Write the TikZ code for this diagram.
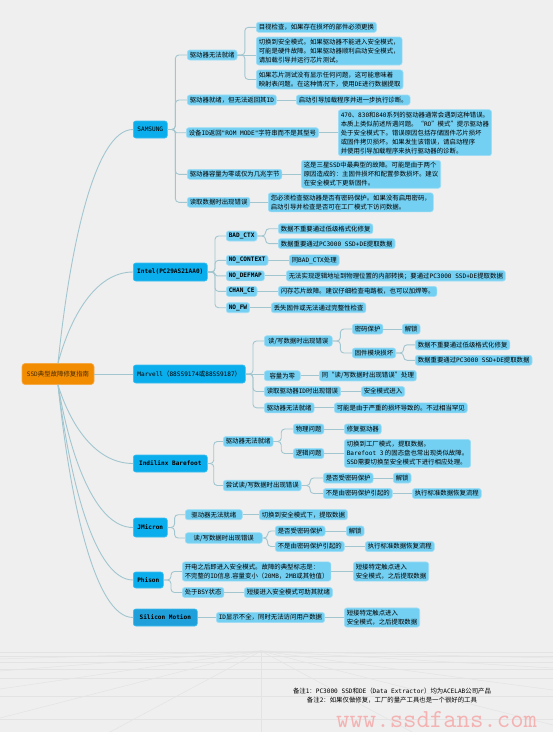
\documentclass[tikz,border=0pt]{standalone}
\usepackage{fontspec}
\setmainfont{Noto Sans CJK SC}
\newfontfamily\codefont{DejaVu Sans Mono}
\usetikzlibrary{calc}
\definecolor{bg}{HTML}{EFEFEF}
\definecolor{prifill}{HTML}{0BAEEC}
\definecolor{pridraw}{HTML}{3DBEF0}
\definecolor{smfill}{HTML}{1FA0DA}
\definecolor{secfill}{HTML}{74D0F2}
\definecolor{secdraw}{HTML}{A0DEF6}
\definecolor{rootfill}{HTML}{F28C00}
\definecolor{rootdraw}{HTML}{F6AA45}
\definecolor{roottext}{HTML}{4A2C00}
\definecolor{conncol}{HTML}{A2C6CF}
\definecolor{wm}{HTML}{F4B2B2}
\definecolor{gridc}{HTML}{E3E3E3}
\newcommand\fs{\fontsize{6.4}{9}\selectfont}
\newcommand\cd[1]{{\codefont\fontsize{6.1}{9}\selectfont #1}}
\newcommand\cdb[1]{{\codefont\bfseries\fontsize{6.1}{9}\selectfont #1}}
\newcommand\brx[3][3.5pt]{\draw[conn, rounded corners=#1] (#2.east) -- ($(#2.east)!.4!(#2.east -| #3.west)$) |- (#3.west);}
\newcommand\sln[2]{\draw[conn] (#1.east) -- (#1.east -| #2.west);}
\tikzset{
  base/.style={draw, rounded corners=2.5pt, line width=0.6pt, inner xsep=2.5pt, inner ysep=2pt, align=left, font=\fs, text=black},
  sec/.style={base, fill=secfill, draw=secdraw, anchor=west, minimum height=10pt},
  pri/.style={base, fill=prifill, draw=pridraw, anchor=west, align=center, minimum height=17pt, inner xsep=1pt},
  rootn/.style={base, fill=rootfill, draw=rootdraw, rounded corners=3pt, align=center, minimum width=72pt, minimum height=21pt, text=roottext},
  conn/.style={draw=conncol, line width=0.9pt},
  gridl/.style={draw=gridc, line width=0.5pt},
}
\begin{document}
\begin{tikzpicture}[x=1pt,y=-1pt]
\useasboundingbox (0,0) rectangle (553,732);
\clip (0,0) rectangle (553,732);
\fill[bg] (0,0) rectangle (553,732);
% faint perspective floor in the background
\coordinate (vp) at (261,651);
\foreach \yy in {652,656.7,662.7,669.3,678.7,696,719} {\draw[gridl] (0,\yy) -- (553,\yy);}
\draw[gridl] (261,652) -- (261,732);
\foreach \pt in {(0,659),(0,671),(0,689),(0,718),(110,732),(553,658),(553,668),(553,690),(553,725),(412,732)} {\draw[gridl] (vp) -- \pt;}
% watermark
\node[anchor=base west, inner sep=0, text=wm, font=\ttfamily\fontsize{26}{26}\selectfont] (wm) at (336,727) {www.ssdfans.com};

% root
\node[rootn] (root) at (58,374) {\cd{SSD}典型故障修复指南};

% SAMSUNG
\node[pri, minimum width=34pt] (sam) at (133,129.5) {\cd{SAMSUNG}};
\node[sec] (s1) at (187,55) {驱动器无法就绪};
\node[sec] (s11) at (256,27.3) {目视检查，如果存在损坏的部件必须更换};
\node[sec] (s12) at (256,51) {切换到安全模式。如果驱动器不能进入安全模式，\\可能是硬件故障。如果驱动器顺利启动安全模式，\\请加载引导并运行芯片测试。};
\node[sec] (s13) at (256,79.5) {如果芯片测试没有显示任何问题，这可能意味着\\映射表问题。在这种情况下，使用\cd{DE}进行数据提取};
\node[sec] (s2) at (187,100) {驱动器就绪，但无法返回其\cd{ID}};
\node[sec] (s21) at (296,100) {启动引导加载程序并进一步执行诊断。};
\node[sec] (s3) at (186,132.7) {设备\cd{ID}返回\cd{"ROM MODE"}字符串而不是其型号};
\node[sec] (s31) at (338,132.7) {\cd{470}、\cd{830}和\cd{840}系列的驱动器通常会遇到这种错误。\\本质上类似前述所遇问题。“\cd{RO}”模式”提示驱动器\\处于安全模式下。错误原因包括存储固件芯片损坏\\或固件拷贝损坏。如果发生该错误，请启动程序\\并使用引导加载程序来执行驱动器的诊断。};
\node[sec] (s4) at (187,174.3) {驱动器容量为零或仅为几兆字节};
\node[sec] (s41) at (301,174.3) {这是三星\cd{SSD}中最典型的故障。可能是由于两个\\原因造成的：主固件损坏和配置参数损坏。建议\\在安全模式下更新固件。};
\node[sec] (s5) at (187,202.3) {读取数据时出现错误};
\node[sec] (s51) at (268,202.3) {您必须检查驱动器是否有密码保护。如果没有启用密码，\\启动引导并检查是否可在工厂模式下访问数据。};

% Intel
\node[pri, minimum width=74pt, minimum height=18pt] (int) at (133,272) {\cdb{Intel(PC29AS21AA0)}};
\node[sec] (i1) at (226,236) {\cdb{BAD\_CTX}};
\node[sec] (i11) at (278,228.7) {数据不重要通过低级格式化修复};
\node[sec] (i12) at (278,243.6) {数据重要通过\cd{PC3000 SSD+DE}提取数据};
\node[sec] (i2) at (226,260.3) {\cdb{NO\_CONTEXT}};
\node[sec] (i21) at (289,260.3) {同\cd{BAD\_CTX}处理};
\node[sec] (i3) at (226,275.8) {\cdb{NO\_DEFMAP}};
\node[sec] (i31) at (286,275.8) {无法实现逻辑地址到物理位置的内部转换；要通过\cd{PC3000 SSD+DE}提取数据};
\node[sec] (i4) at (226,291.4) {\cdb{CHAN\_CE}};
\node[sec] (i41) at (278,291.4) {闪存芯片故障。建议仔细检查电路板，也可以加焊等。};
\node[sec] (i5) at (226,307.7) {\cdb{NO\_FW}};
\node[sec] (i51) at (271,307.7) {丢失固件或无法通过完整性检查};

% Marvell
\node[pri, minimum width=112pt, minimum height=18pt] (mar) at (133,374) {\cd{Marvell}（\cd{88SS9174}或\cd{88SS9187}）};
\node[sec, minimum width=68pt] (m1) at (264,341) {读/写数据时出现错误};
\node[sec] (m11) at (352,329) {密码保护};
\node[sec] (m111) at (402,329) {解锁};
\node[sec] (m12) at (352,353) {固件模块损坏};
\node[sec] (m121) at (415,344.8) {数据不重要通过低级格式化修复};
\node[sec] (m122) at (415,360.3) {数据重要通过\cd{PC3000 SSD+DE}提取数据};
\node[sec, minimum width=36pt] (m2) at (264,375.7) {容量为零};
\node[sec] (m21) at (319,375.7) {同“读/写数据时出现错误”处理};
\node[sec] (m3) at (264,391.5) {读取驱动器\cd{ID}时出现错误};
\node[sec] (m31) at (361,391.5) {安全模式进入};
\node[sec] (m4) at (264,407.8) {驱动器无法就绪};
\node[sec] (m41) at (334,407.8) {可能是由于严重的损坏导致的。不过相当罕见};

% Indilinx
\node[pri, minimum width=74pt] (ind) at (133,463.5) {\cdb{Indilinx Barefoot}};
\node[sec] (d1) at (223,441.5) {驱动器无法就绪};
\node[sec] (d11) at (293,429) {物理问题};
\node[sec] (d111) at (344,429) {修复驱动器};
\node[sec] (d12) at (293,453.5) {逻辑问题};
\node[sec] (d121) at (344,453.5) {切换到工厂模式，提取数据。\\\cd{Barefoot 3} 的固态盘也常出现类似故障。\\\cd{SSD}需要切换至安全模式下进行相应处理。};
\node[sec] (d2) at (223,485.5) {尝试读/写数据时出现错误};
\node[sec] (d21) at (323,478) {是否受密码保护};
\node[sec] (d211) at (393,478) {解锁};
\node[sec] (d22) at (323,493.5) {不是由密码保护引起的};
\node[sec] (d221) at (412,493.5) {执行标准数据恢复流程};

% JMicron
\node[pri, minimum width=34pt, minimum height=19pt] (jm) at (133,527.5) {\cdb{JMicron}};
\node[sec, minimum width=57pt] (j1) at (185,514.7) {驱动器无法就绪};
\node[sec] (j11) at (259,514.7) {切换到安全模式下，提取数据};
\node[sec, minimum width=77pt] (j2) at (185,538) {读/写数据时出现错误};
\node[sec] (j21) at (275,531) {是否受密码保护};
\node[sec] (j211) at (346,531) {解锁};
\node[sec] (j22) at (275,546.5) {不是由密码保护引起的};
\node[sec] (j221) at (365,546.5) {执行标准数据恢复流程};

% Phison
\node[pri, minimum width=30pt, minimum height=16pt] (ph) at (133,580) {\cdb{Phison}};
\node[sec] (p1) at (182,571.5) {开电之后即进入安全模式。故障的典型标志是：\\不完整的\cd{ID}信息.容量变小（\cd{20MB}，\cd{2MB}或其他值）};
\node[sec] (p11) at (353,571.5) {短接特定触点进入\\安全模式，之后提取数据};
\node[sec] (p2) at (182,592.5) {处于\cd{BSY}状态};
\node[sec] (p21) at (244,592.5) {短接进入安全模式可助其就绪};

% Silicon Motion
\node[pri, fill=smfill, minimum width=64pt] (sm) at (133,617.5) {\cdb{Silicon Motion}};
\node[sec] (sm1) at (216,617.5) {\cd{ID}显示不全，同时无法访问用户数据};
\node[sec] (sm11) at (344,617.5) {短接特定触点进入\\安全模式，之后提取数据};

% notes
\node[font=\fs, align=center, inner sep=0] (note) at (392,695.5) {备注\cd{1}：\cd{PC3000 SSD}和\cd{DE}（\cd{Data Extractor}）均为\cd{ACELAB}公司产品\\备注\cd{2}：如果仅做修复，工厂的量产工具也是一个很好的工具};

% root connectors
\draw[conn] (root.north) .. controls (70,246) and (95,129.5) .. (sam.west);
\draw[conn] (root.north) .. controls (70,318) and (95,272) .. (int.west);
\draw[conn] (root.east) -- (mar.west);
\draw[conn] (root.south) .. controls (70,424) and (95,463.5) .. (ind.west);
\draw[conn] (root.south) .. controls (70,456) and (95,527.5) .. (jm.west);
\draw[conn] (root.south) .. controls (70,482) and (95,580) .. (ph.west);
\draw[conn] (root.south) .. controls (70,501) and (95,617.5) .. (sm.west);

% Samsung
\brx{sam}{s1} \brx{sam}{s2} \brx[1.5pt]{sam}{s3} \brx{sam}{s4} \brx{sam}{s5}
\brx{s1}{s11} \sln{s1}{s12} \brx{s1}{s13}
\sln{s2}{s21} \sln{s3}{s31} \sln{s4}{s41} \sln{s5}{s51}
% Intel
\brx{int}{i1} \brx{int}{i2} \brx[1.8pt]{int}{i3} \brx{int}{i4} \brx{int}{i5}
\brx{i1}{i11} \brx{i1}{i12}
\sln{i2}{i21} \sln{i3}{i31} \sln{i4}{i41} \sln{i5}{i51}
% Marvell
\brx{mar}{m1} \sln{mar}{m2} \brx{mar}{m3} \brx{mar}{m4}
\brx{m1}{m11} \brx{m1}{m12}
\sln{m11}{m111}
\brx{m12}{m121} \brx{m12}{m122}
\sln{m2}{m21} \sln{m3}{m31} \sln{m4}{m41}
% Indilinx
\brx{ind}{d1} \brx{ind}{d2}
\brx{d1}{d11} \brx{d1}{d12}
\sln{d11}{d111} \sln{d12}{d121}
\brx{d2}{d21} \brx{d2}{d22}
\sln{d21}{d211} \sln{d22}{d221}
% JMicron
\brx{jm}{j1} \brx{jm}{j2}
\sln{j1}{j11}
\brx{j2}{j21} \brx{j2}{j22}
\sln{j21}{j211} \sln{j22}{j221}
% Phison
\brx{ph}{p1} \brx{ph}{p2}
\sln{p1}{p11} \sln{p2}{p21}
% Silicon Motion
\sln{sm}{sm1} \sln{sm1}{sm11}
\end{tikzpicture}
\end{document}
